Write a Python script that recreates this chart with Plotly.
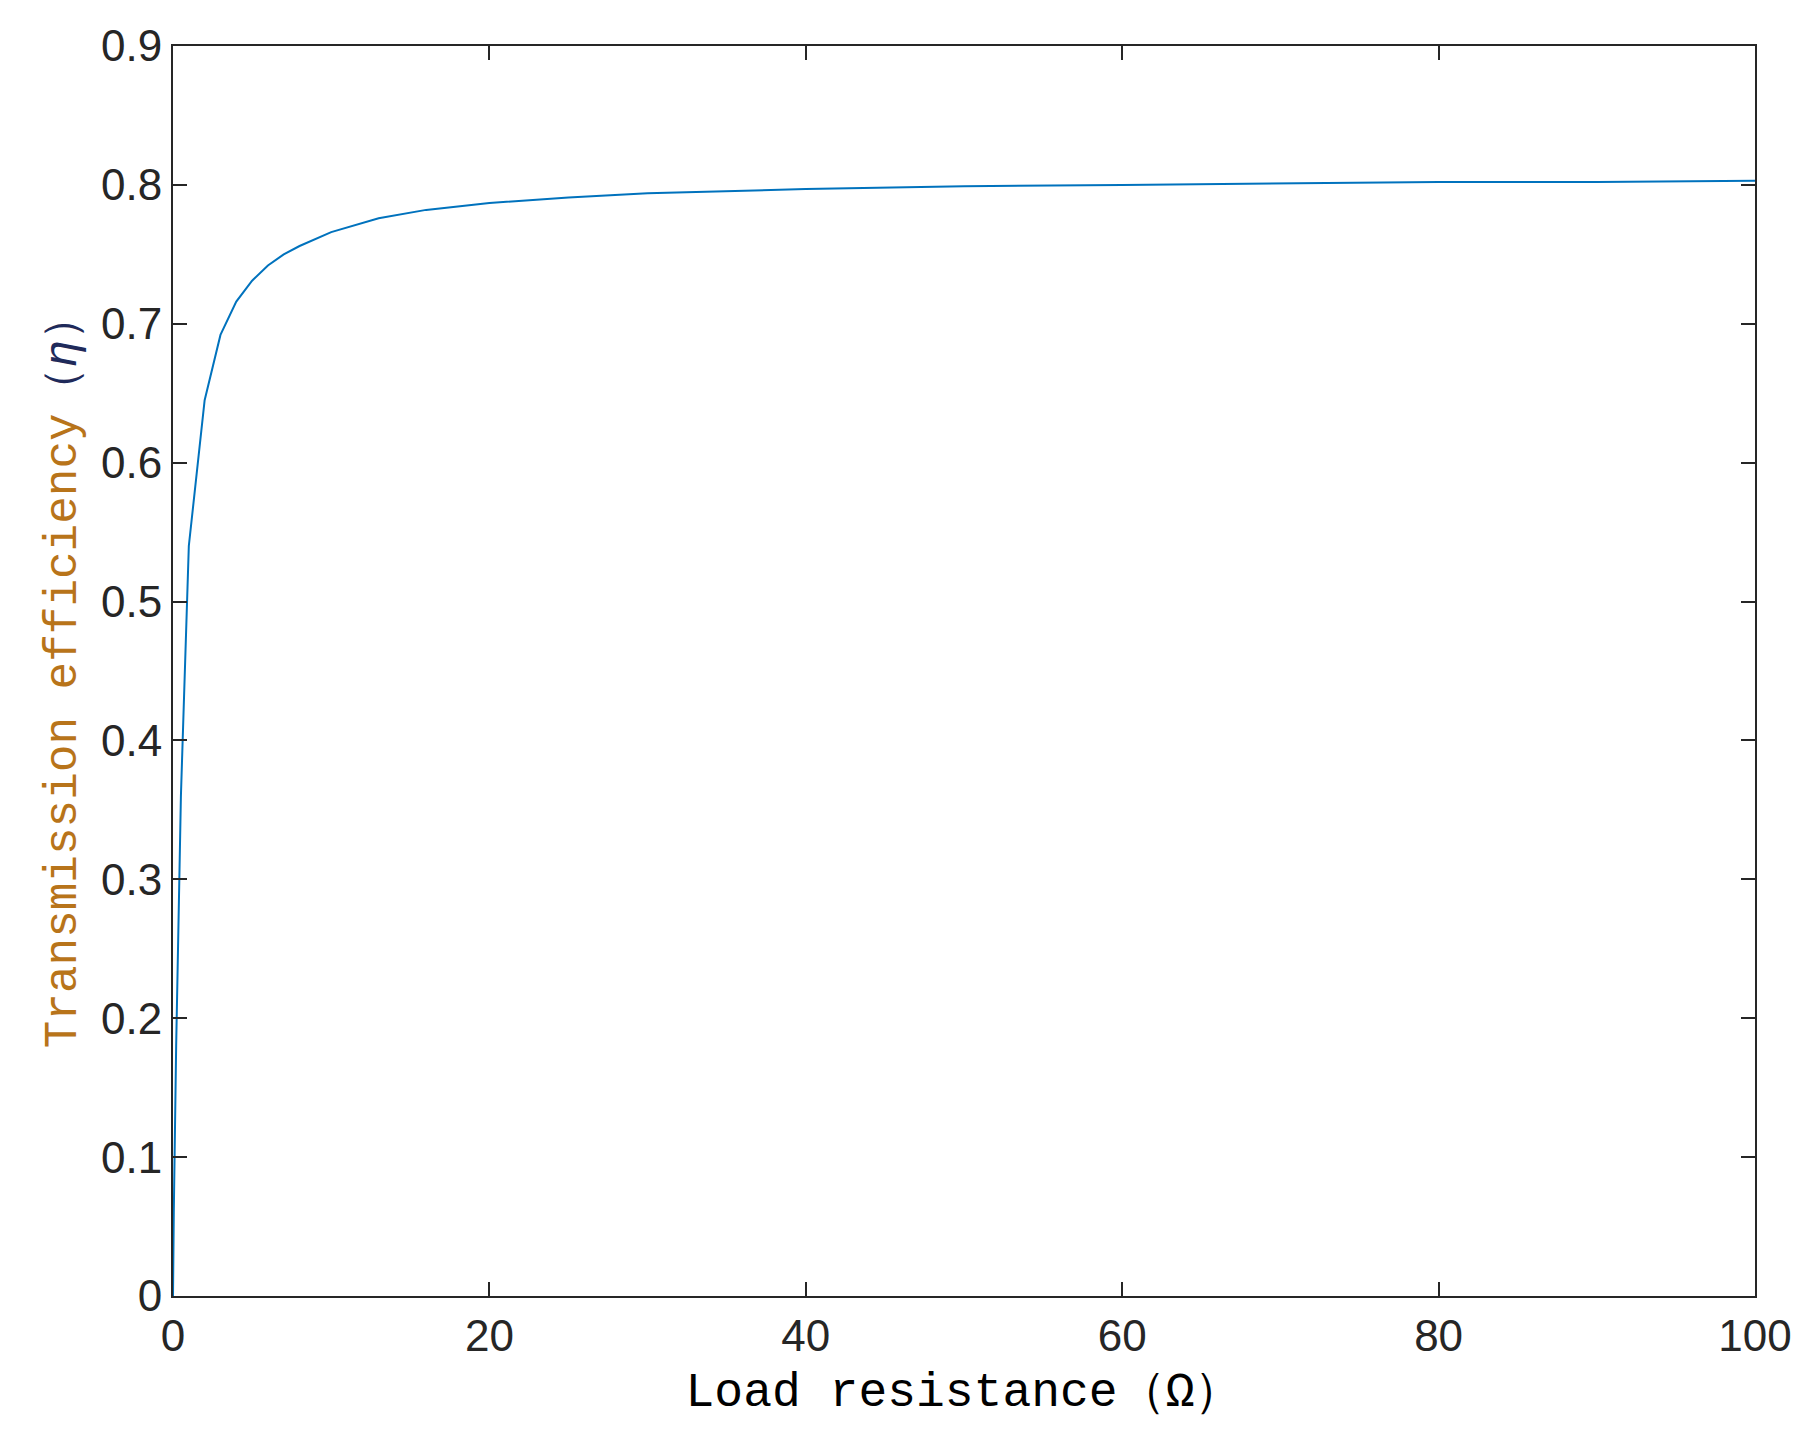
import plotly.graph_objects as go

resistance = [0, 0.05, 0.2, 0.5, 1, 2, 3, 4, 5, 6, 7, 8, 10, 13, 16, 20, 25, 30, 40, 50, 60, 70, 80, 90, 100]
efficiency = [0, 0.06, 0.18, 0.36, 0.54, 0.645, 0.692, 0.716, 0.731, 0.742, 0.750, 0.756, 0.766, 0.776, 0.782, 0.787, 0.791, 0.794, 0.797, 0.799, 0.800, 0.801, 0.802, 0.802, 0.803]

fig = go.Figure(go.Scatter(x=resistance, y=efficiency, mode="lines",
                           line=dict(color="#0072BD", width=2)))

axis_common = dict(showline=True, linecolor="#262626", linewidth=2, mirror="ticks",
                   ticks="inside", ticklen=14, tickwidth=1.5, tickcolor="#262626",
                   showgrid=False, zeroline=False,
                   tickfont=dict(family="Liberation Sans", size=44, color="#262626"))

fig.update_xaxes(range=[0, 100], tickvals=[0, 20, 40, 60, 80, 100],
                 title=dict(text="Load resistance（Ω）", font=dict(family="Liberation Mono", size=48, color="black"), standoff=14),
                 **axis_common)
fig.update_yaxes(range=[0, 0.9],
                 tickvals=[0, 0.1, 0.2, 0.3, 0.4, 0.5, 0.6, 0.7, 0.8, 0.9],
                 ticktext=["0", "0.1", "0.2", "0.3", "0.4", "0.5", "0.6", "0.7", "0.8", "0.9"],
                 title=dict(text="<span style='color:#B8741A'>Transmission efficiency</span><span style='color:#1F2A5A'>（<i>η</i>）</span>",
                            font=dict(family="Liberation Mono", size=46), standoff=10),
                 **axis_common)

fig.update_layout(width=1805, height=1452, plot_bgcolor="white", paper_bgcolor="white",
                  margin=dict(l=165, r=58, t=38, b=164), showlegend=False)

fig.write_html("out.html")
